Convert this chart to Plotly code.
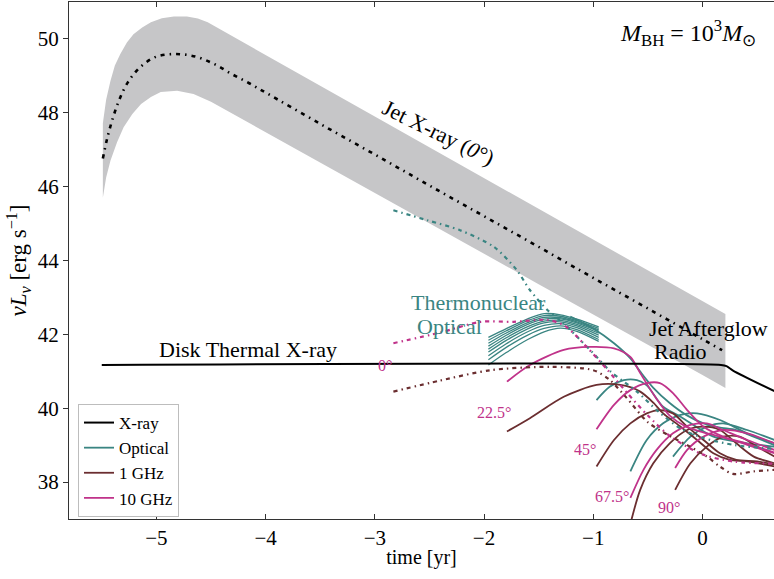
import plotly.graph_objects as go

# ---------------- data ----------------
# Jet X-ray (0 deg) centre line
jet_x = [-5.49, -5.45, -5.40, -5.34, -5.26, -5.15, -5.00, -4.82, -4.64, -4.47, -4.31, -4.15,
         -3.99, -3.50, -3.00, -2.50, -2.00, -1.50, -1.00, -0.50, 0.00, 0.18]
jet_y = [46.76, 47.31, 47.84, 48.35, 48.83, 49.23, 49.52, 49.59, 49.52, 49.32, 49.05, 48.80,
         48.53, 47.70, 46.87, 46.03, 45.20, 44.37, 43.53, 42.70, 41.87, 41.57]
# Jet X-ray band
band_up_x = [-5.49, -5.46, -5.42, -5.38, -5.33, -5.27, -5.21, -5.13, -5.05, -4.95, -4.84, -4.72,
             -4.62, -4.53, -3.00, -1.50, 0.00, 0.21]
band_up_y = [47.72, 48.35, 48.87, 49.28, 49.59, 49.90, 50.13, 50.31, 50.45, 50.56, 50.61, 50.61,
             50.55, 50.45, 47.90, 45.40, 42.90, 42.55]
band_lo_x = [-5.49, -5.46, -5.42, -5.36, -5.30, -5.22, -5.14, -5.05, -4.96, -4.81, -4.66, -4.50,
             -3.00, -1.50, 0.00, 0.21]
band_lo_y = [45.70, 46.25, 46.71, 47.20, 47.61, 47.97, 48.24, 48.43, 48.56, 48.60, 48.51, 48.30,
             45.83, 43.36, 40.90, 40.55]

# Disk thermal X-ray
disk_x = [-5.50, 0.17, 0.22, 0.28, 0.66]
disk_y = [41.17, 41.17, 41.14, 41.02, 40.46]

# On-axis (0 deg) curves, dash-dot
opt0_x = [-2.83, -2.52, -2.22, -1.91, -1.70, -1.58, -1.42, -1.27, -1.15, -1.00, -0.84, -0.60, -0.40, -0.20, 0.00, 0.30, 0.66]
opt0_y = [45.36, 45.09, 44.82, 44.37, 43.74, 43.20, 42.66, 42.30, 41.94, 41.49, 40.99, 40.45, 39.90, 39.45, 39.20, 39.00, 38.90]
g10_0_x = [-2.83, -2.40, -2.03, -1.73, -1.42, -1.27, -1.15, -1.06, -0.87, -0.70, -0.50, -0.30, 0.00, 0.30, 0.66]
g10_0_y = [41.76, 42.05, 42.34, 42.34, 42.39, 42.25, 41.94, 41.66, 41.04, 40.45, 39.80, 39.25, 38.75, 38.55, 38.50]
g1_0_x = [-2.83, -2.40, -1.94, -1.39, -1.00, -0.85, -0.70, -0.50, -0.30, -0.14, 0.04, 0.16, 0.28, 0.47, 0.66]
g1_0_y = [40.45, 40.75, 41.03, 41.12, 41.03, 40.77, 40.30, 39.62, 39.25, 39.00, 38.69, 38.42, 38.22, 38.29, 38.33]

# Thermonuclear optical bundle
tn_x = [-1.96, -1.80, -1.60, -1.45, -1.30, -1.15, -0.95]
tn_y1 = [41.92, 42.15, 42.42, 42.56, 42.53, 42.41, 42.20]
tn_y2 = [41.84, 42.09, 42.37, 42.51, 42.49, 42.37, 42.16]
tn_y3 = [41.76, 42.03, 42.32, 42.46, 42.45, 42.34, 42.12]
tn_y4 = [41.68, 41.97, 42.27, 42.41, 42.42, 42.31, 42.08]
tn_y5 = [41.60, 41.90, 42.21, 42.36, 42.38, 42.27, 42.03]
tn_y6 = [41.52, 41.83, 42.15, 42.31, 42.34, 42.23, 41.98]
tn_y7 = [41.42, 41.74, 42.07, 42.24, 42.29, 42.18, 41.92]
tn_y8 = [41.31, 41.64, 41.98, 42.16, 42.23, 42.13, 41.86]
tn_y9 = [41.17, 41.50, 41.86, 42.07, 42.17, 42.08, 41.81]

# Optical decline after the bundle
opt_main_x = [-1.21, -1.00, -0.81, -0.66, -0.57, -0.45, -0.30, -0.15, 0.01, 0.15, 0.31, 0.45, 0.66]
opt_main_y = [42.48, 42.16, 41.76, 41.35, 40.99, 40.55, 40.14, 39.82, 39.59, 39.48, 39.41, 39.25, 39.00]

# Off-axis optical
opt45_x = [-0.97, -0.85, -0.72, -0.60, -0.51, -0.36, -0.20, 0.10, 0.41, 0.66]
opt45_y = [40.22, 40.58, 40.76, 40.76, 40.62, 40.04, 39.77, 39.23, 39.05, 38.96]
opt67_x = [-0.66, -0.51, -0.36, -0.20, -0.05, 0.16, 0.41, 0.66]
opt67_y = [38.29, 39.14, 39.59, 39.82, 39.86, 39.68, 39.32, 39.05]
opt90_x = [-0.27, -0.11, 0.04, 0.19, 0.41, 0.66]
opt90_y = [38.69, 39.23, 39.50, 39.59, 39.41, 39.14]

# Off-axis 10 GHz
g10_22_x = [-1.79, -1.58, -1.27, -1.03, -0.81, -0.66, -0.57, -0.42, -0.30, -0.15, 0.00, 0.20, 0.40, 0.66]
g10_22_y = [40.72, 41.17, 41.58, 41.66, 41.62, 41.39, 40.95, 40.25, 39.80, 39.50, 39.35, 39.20, 39.05, 38.80]
g10_45_x = [-0.97, -0.81, -0.66, -0.51, -0.39, -0.27, -0.14, 0.01, 0.19, 0.41, 0.66]
g10_45_y = [39.43, 40.09, 40.49, 40.68, 40.68, 40.41, 39.95, 39.50, 39.23, 39.01, 38.78]
g10_67_x = [-0.66, -0.54, -0.42, -0.27, -0.11, 0.04, 0.19, 0.41, 0.66]
g10_67_y = [37.57, 38.33, 38.87, 39.32, 39.55, 39.59, 39.41, 39.14, 38.87]
g10_90_x = [-0.25, -0.14, 0.01, 0.19, 0.41, 0.66]
g10_90_y = [38.38, 38.87, 39.23, 39.41, 39.32, 39.05]

# Off-axis 1 GHz
g1_22_x = [-1.79, -1.58, -1.27, -0.97, -0.75, -0.57, -0.45, -0.36, -0.20, -0.05, 0.10, 0.25, 0.41, 0.66]
g1_22_y = [39.37, 39.73, 40.31, 40.63, 40.63, 40.45, 40.15, 39.86, 39.50, 39.14, 38.78, 38.60, 38.56, 38.42]
g1_45_x = [-0.97, -0.81, -0.66, -0.51, -0.39, -0.27, -0.14, 0.01, 0.16, 0.31, 0.50, 0.66]
g1_45_y = [38.42, 39.14, 39.59, 39.86, 39.95, 39.86, 39.50, 39.14, 38.78, 38.60, 38.56, 38.47]
g1_67_x = [-0.65, -0.57, -0.45, -0.30, -0.14, 0.01, 0.16, 0.31, 0.47, 0.66]
g1_67_y = [36.98, 37.79, 38.51, 39.05, 39.41, 39.50, 39.41, 39.05, 38.69, 38.51]
g1_90_x = [-0.25, -0.11, 0.04, 0.19, 0.34, 0.50, 0.66]
g1_90_y = [37.79, 38.51, 38.96, 39.23, 39.23, 38.96, 38.69]

# angle labels
ang_labels = ["0°", "22.5°", "45°", "67.5°", "90°"]
ang_x = [-2.91, -1.91, -1.08, -0.83, -0.31]
ang_y = [41.15, 39.88, 38.87, 37.60, 37.30]

x_ticks = [-5, -4, -3, -2, -1, 0]
y_ticks = [38, 40, 42, 44, 46, 48, 50]

# ---------------- style ----------------
BLACK = "#000000"
TEAL = "#3a8582"
BROWN = "#6b2e30"
MAGENTA = "#c0338a"
GRAY = "#c6c6c8"
FONT = "Liberation Serif"
DASHDOT = "4px,4px,1.5px,4px"

fig = go.Figure()

# band
fig.add_trace(go.Scatter(x=band_up_x + band_lo_x[::-1], y=band_up_y + band_lo_y[::-1],
                         fill="toself", fillcolor=GRAY, line=dict(width=0),
                         mode="lines", showlegend=False, hoverinfo="skip"))
fig.add_trace(go.Scatter(x=jet_x, y=jet_y, mode="lines", showlegend=False,
                         line=dict(color=BLACK, width=2.6, dash="4px,5px,1.5px,5px", shape="spline")))


def add_line(x, y, color, dash="solid", width=1.8, name=None, rank=None):
    fig.add_trace(go.Scatter(x=x, y=y, mode="lines",
                             line=dict(color=color, width=width, dash=dash, shape="spline", smoothing=0.8),
                             name=name or "", showlegend=name is not None,
                             legendrank=rank if rank else 1000))


# bundle
for ty in [tn_y1, tn_y2, tn_y3, tn_y4, tn_y5, tn_y6, tn_y7, tn_y8, tn_y9]:
    add_line(tn_x, ty, TEAL, width=1.3)

add_line(opt_main_x, opt_main_y, TEAL, name="Optical", rank=2)
add_line(opt45_x, opt45_y, TEAL)
add_line(opt67_x, opt67_y, TEAL)
add_line(opt90_x, opt90_y, TEAL)

add_line(g1_22_x, g1_22_y, BROWN, name="1 GHz", rank=3)
add_line(g1_45_x, g1_45_y, BROWN)
add_line(g1_67_x, g1_67_y, BROWN)
add_line(g1_90_x, g1_90_y, BROWN)

add_line(g10_22_x, g10_22_y, MAGENTA, name="10 GHz", rank=4)
add_line(g10_45_x, g10_45_y, MAGENTA)
add_line(g10_67_x, g10_67_y, MAGENTA)
add_line(g10_90_x, g10_90_y, MAGENTA)

add_line(opt0_x, opt0_y, TEAL, dash=DASHDOT, width=2.2)
add_line(g10_0_x, g10_0_y, MAGENTA, dash=DASHDOT, width=2.2)
add_line(g1_0_x, g1_0_y, BROWN, dash=DASHDOT, width=2.2)

add_line(disk_x, disk_y, BLACK, width=2.0, name="X-ray", rank=1)

# annotations
ann = []
for t, ax_, ay_ in zip(ang_labels, ang_x, ang_y):
    ann.append(dict(x=ax_, y=ay_, text=t, showarrow=False, font=dict(family=FONT, size=16, color=MAGENTA)))

ann += [
    dict(x=-4.16, y=41.58, text="Disk Thermal X-ray", showarrow=False,
         font=dict(family=FONT, size=22, color=BLACK)),
    dict(x=-2.69, y=42.85, xanchor="left", text="Thermonuclear", showarrow=False,
         font=dict(family=FONT, size=22, color=TEAL)),
    dict(x=-2.63, y=42.2, xanchor="left", text="Optical", showarrow=False,
         font=dict(family=FONT, size=22, color=TEAL)),
    dict(x=-0.51, y=42.17, xanchor="left", text="Jet Afterglow", showarrow=False,
         font=dict(family=FONT, size=22, color=BLACK)),
    dict(x=-0.20, y=41.53, text="Radio", showarrow=False,
         font=dict(family=FONT, size=22, color=BLACK)),
    dict(x=-2.42, y=47.47, text="Jet X-ray (<i>0</i>°)", showarrow=False, textangle=26,
         font=dict(family=FONT, size=22, color=BLACK)),
    dict(x=-0.13, y=50.15, text="<i>M</i><sub>BH</sub> = 10<sup>3</sup><i>M</i><sub>⊙</sub>",
         showarrow=False, font=dict(family=FONT, size=24, color=BLACK)),
]

fig.update_layout(
    width=774, height=579,
    margin=dict(l=69, r=0, t=2, b=60),
    paper_bgcolor="white", plot_bgcolor="white",
    font=dict(family=FONT, size=18, color=BLACK),
    annotations=ann,
    legend=dict(x=0.0128, y=0.2224, xanchor="left", yanchor="top",
                bgcolor="white", bordercolor="#bdbdbd", borderwidth=1,
                font=dict(family=FONT, size=17, color=BLACK), tracegroupgap=0,
                itemwidth=30),
)
fig.update_xaxes(range=[-5.8, 0.655], tickvals=x_ticks, automargin=False,
                 ticktext=["\u2212" + str(-v) if v < 0 else str(v) for v in x_ticks],
                 ticks="inside", ticklen=5, tickcolor="#333", showline=True, linecolor="#333",
                 linewidth=1, mirror="ticks", showgrid=False, zeroline=False,
                 title=dict(text="time [yr]", font=dict(family=FONT, size=20), standoff=0),
                 tickfont=dict(family=FONT, size=21))
fig.update_yaxes(range=[37, 51], tickvals=y_ticks, automargin=False,
                 ticks="outside", ticklen=5, tickcolor="#333",
                 showline=True, linecolor="#333", linewidth=1, mirror=True, showgrid=False,
                 zeroline=False,
                 title=dict(text="<i>νL</i><sub><i>ν</i></sub> [erg s<sup>\u22121</sup>]",
                            font=dict(family=FONT, size=23), standoff=4),
                 tickfont=dict(family=FONT, size=21))

fig.write_html("out.html", config={"displayModeBar": False},
               post_script="document.body.style.margin='0px';")
